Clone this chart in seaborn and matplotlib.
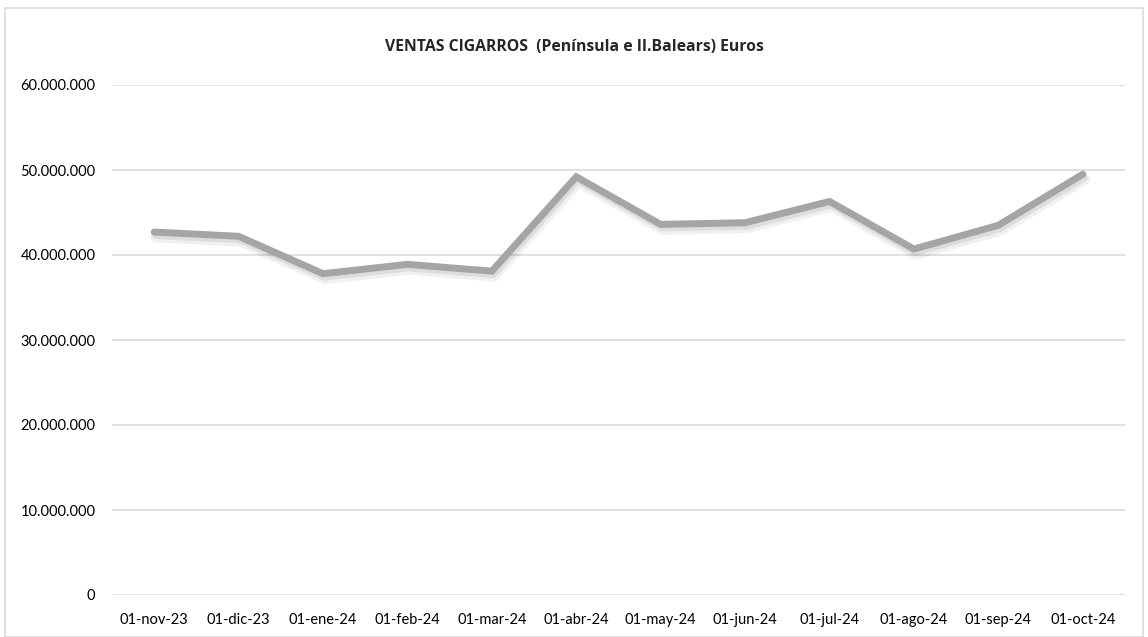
import matplotlib
matplotlib.use('Agg')
import matplotlib.pyplot as plt
import matplotlib.patheffects as pe
import matplotlib.ticker as mticker
import pandas as pd
import seaborn as sns

# Monthly data
months = ['01-nov-23', '01-dic-23', '01-ene-24', '01-feb-24', '01-mar-24', '01-abr-24',
          '01-may-24', '01-jun-24', '01-jul-24', '01-ago-24', '01-sep-24', '01-oct-24']
ventas = [42.7e6, 42.2e6, 37.8e6, 38.9e6, 38.1e6, 49.2e6,
          43.6e6, 43.8e6, 46.3e6, 40.7e6, 43.5e6, 49.5e6]
yticks = [0, 10e6, 20e6, 30e6, 40e6, 50e6, 60e6]

df = pd.DataFrame({'mes': months, 'ventas': ventas})
df['pos'] = range(len(df))

sns.set_theme(style='white')
plt.rcParams['font.family'] = ['Lato', 'DejaVu Sans']

fig = plt.figure(figsize=(11.48, 6.37), dpi=100)
ax = fig.add_axes([112 / 1148, 1 - 595 / 637, (1125 - 112) / 1148, (595 - 85) / 637])

shadow = [pe.SimpleLineShadow(offset=(1.5, -3.5), shadow_color='#000000', alpha=0.06, linewidth=8),
          pe.SimpleLineShadow(offset=(1.0, -2.5), shadow_color='#000000', alpha=0.08),
          pe.Normal()]
sns.lineplot(data=df, x='pos', y='ventas', ax=ax, color='#a5a5a5', linewidth=5,
             solid_capstyle='round', solid_joinstyle='miter', path_effects=shadow)

ax.set_xlim(-0.5, len(months) - 0.5)
ax.set_ylim(0, 60e6)
ax.set_yticks(yticks)
ax.yaxis.set_major_formatter(mticker.FuncFormatter(lambda v, p: f'{int(v):,}'.replace(',', '.')))
ax.set_xticks(df['pos'])
ax.set_xticklabels(months)
ax.grid(axis='y', color='#d9d9d9', linewidth=1.1)
ax.grid(axis='x', visible=False)
for s in ax.spines.values():
    s.set_visible(False)
ax.tick_params(axis='both', length=0, labelsize=10.5, colors='#000000')
ax.tick_params(axis='x', pad=13)
ax.tick_params(axis='y', pad=12)
ax.set_xlabel('')
ax.set_ylabel('')

fig.text(574 / 1148, 1 - 47 / 637, 'VENTAS CIGARROS  (Península e II.Balears) Euros',
         ha='center', va='center', fontsize=11.3, fontweight='bold',
         family=['Open Sans', 'DejaVu Sans'])

# chart border
fig.patches.append(plt.Rectangle((5 / 1148, 0), 1 - 10 / 1148, 1 - 8 / 637, transform=fig.transFigure,
                                 fill=False, edgecolor='#d9d9d9', linewidth=1.2))

fig.savefig('out.png', dpi=100)
